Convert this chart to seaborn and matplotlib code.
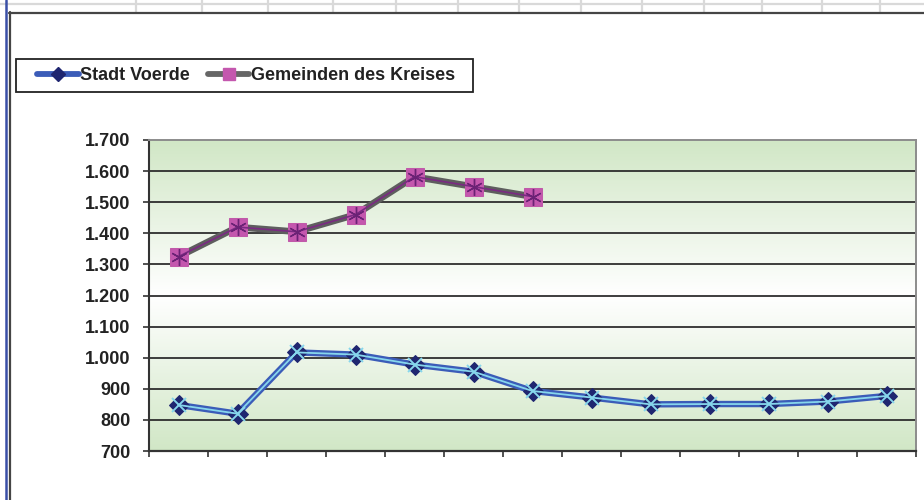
import numpy as np
import pandas as pd
import matplotlib
matplotlib.use("Agg")
import matplotlib.pyplot as plt
from matplotlib.colors import LinearSegmentedColormap
from matplotlib.lines import Line2D
from matplotlib.patches import Rectangle
from matplotlib.ticker import FuncFormatter, FixedLocator
import seaborn as sns

# --- data -------------------------------------------------------------
periods = list(range(13))
stadt_voerde = [848, 820, 1017, 1010, 978, 955, 893, 872, 850, 851, 851, 859, 877]
kreis_periods = list(range(7))
gemeinden_kreis = [1325, 1420, 1405, 1460, 1582, 1550, 1518]
series_names = ["Stadt Voerde", "Gemeinden des Kreises"]
y_ticks = list(range(700, 1701, 100))

df_voerde = pd.DataFrame({"periode": periods, "wert": stadt_voerde})
df_kreis = pd.DataFrame({"periode": kreis_periods, "wert": gemeinden_kreis})

# --- style ------------------------------------------------------------
sns.set_theme(style="white")
plt.rcParams["font.family"] = ["Liberation Sans", "DejaVu Sans"]
plt.rcParams["font.weight"] = "bold"

W, H = 924, 500
fig = plt.figure(figsize=(W / 100, H / 100), dpi=100)
fig.patch.set_facecolor("white")

# spreadsheet cells above the chart object
def hline(y, x0, x1, color, lw):
    fig.add_artist(Line2D([x0 / W, x1 / W], [1 - y / H, 1 - y / H], color=color, lw=lw))

def vline(x, y0, y1, color, lw):
    fig.add_artist(Line2D([x / W, x / W], [1 - y0 / H, 1 - y1 / H], color=color, lw=lw))

hline(4, 0, W, "#d9d9d9", 1.6)
for cx in [136, 202, 268, 333, 396, 458, 519, 581, 642, 704, 762, 822, 880]:
    vline(cx, 0, 12, "#d9d9d9", 1.6)
vline(5.5, 0, H, "#3a4fa6", 1.8)
# chart object frame
hline(12.5, 9, W, "#454545", 1.6)
vline(9.5, 12, H, "#454545", 1.6)

# --- plot area -------------------------------------------------------
left, right, top, bottom = 149, 916, 140, 451
ax = fig.add_axes([left / W, 1 - bottom / H, (right - left) / W, (bottom - top) / H])

green = "#d1e7c6"
grad_cmap = LinearSegmentedColormap.from_list("plotarea", [green, "#ffffff", green])
grad = np.linspace(0, 1, 256).reshape(-1, 1)
ax.imshow(grad, cmap=grad_cmap, aspect="auto", extent=(0, 1, 0, 1),
          transform=ax.transAxes, zorder=0, interpolation="bilinear")

ax.set_xlim(-0.5, 12.5)
ax.set_ylim(700, 1700)

for v in y_ticks[1:-1]:
    ax.axhline(v, color="#2e2e2e", lw=1.3, zorder=1)

# Stadt Voerde: broad blue band, navy diamonds, thin cyan core with crosses
sns.lineplot(data=df_voerde, x="periode", y="wert", ax=ax, color="#3b5cb8",
             lw=4.6, solid_capstyle="round", zorder=3, legend=False)
sns.lineplot(data=df_voerde, x="periode", y="wert", ax=ax, color="#3b5cb8",
             lw=0, marker="D", markersize=10, markerfacecolor="#1f2670",
             markeredgecolor="#1f2670", zorder=4, legend=False)
sns.lineplot(data=df_voerde, x="periode", y="wert", ax=ax, color="#86d6ec",
             lw=1.3, marker="x", markersize=9.5, markeredgewidth=1.4,
             markeredgecolor="#86d6ec", zorder=5, legend=False)

# Gemeinden des Kreises: grey band, magenta squares, thin purple core with asterisks
sns.lineplot(data=df_kreis, x="periode", y="wert", ax=ax, color="#5e5e5e",
             lw=4.8, solid_capstyle="round", zorder=3, legend=False)
sns.lineplot(data=df_kreis, x="periode", y="wert", ax=ax, color="#5e5e5e",
             lw=0, marker="s", markersize=13, markerfacecolor="#c457ae",
             markeredgecolor="#c05aa9", zorder=4, legend=False)
sns.lineplot(data=df_kreis, x="periode", y="wert", ax=ax, color="#7a2a82",
             lw=1.2, marker=(6, 2, 0), markersize=12, markeredgewidth=1.0,
             markeredgecolor="#6b2275", zorder=5, legend=False)

ax.set_xlabel("")
ax.set_ylabel("")

# axes, ticks and labels
ax.yaxis.set_major_locator(FixedLocator(y_ticks))
ax.yaxis.set_major_formatter(FuncFormatter(lambda v, _: f"{v:,.0f}".replace(",", ".")))
ax.xaxis.set_major_locator(FixedLocator([p - 0.5 for p in periods] + [periods[-1] + 0.5]))
ax.set_xticklabels([])
ax.tick_params(axis="y", direction="out", length=4.5, width=1.2, color="#333333",
               pad=9, labelsize=13, labelcolor="#222222", left=True)
ax.tick_params(axis="x", direction="out", length=4.5, width=1.2, color="#333333",
               bottom=True)
for lab in ax.get_yticklabels():
    lab.set_fontweight("bold")

ax.spines["left"].set_color("#333333")
ax.spines["left"].set_linewidth(1.5)
ax.spines["bottom"].set_color("#333333")
ax.spines["bottom"].set_linewidth(1.6)
for s in ("top", "right"):
    ax.spines[s].set_color("#8c8c8c")
    ax.spines[s].set_linewidth(1.4)

# legend with a plain rectangular frame
fig.add_artist(Rectangle((16 / W, 1 - 91.7 / H), (473 - 16) / W, (91.7 - 58.7) / H,
                         transform=fig.transFigure, facecolor="white",
                         edgecolor="#222222", lw=1.3, zorder=2))
handles = [
    Line2D([], [], color="#3b5cb8", lw=4.2, marker="D", markersize=7,
           markerfacecolor="#1f2670", markeredgecolor="#1f2670"),
    Line2D([], [], color="#666666", lw=4.2, marker="s", markersize=8.5,
           markerfacecolor="#c457ae", markeredgecolor="#c457ae"),
]
leg = fig.legend(handles, series_names, loc="center left", ncol=2,
                 bbox_to_anchor=(37 / W, 1 - 75.5 / H), borderaxespad=0,
                 frameon=False, prop={"weight": "bold", "size": 13},
                 handlelength=2.3, handletextpad=0.08, columnspacing=1.0,
                 borderpad=0)
leg.set_zorder(3)
for t in leg.get_texts():
    t.set_color("#222222")

fig.savefig("out.png", dpi=100, facecolor="white")
